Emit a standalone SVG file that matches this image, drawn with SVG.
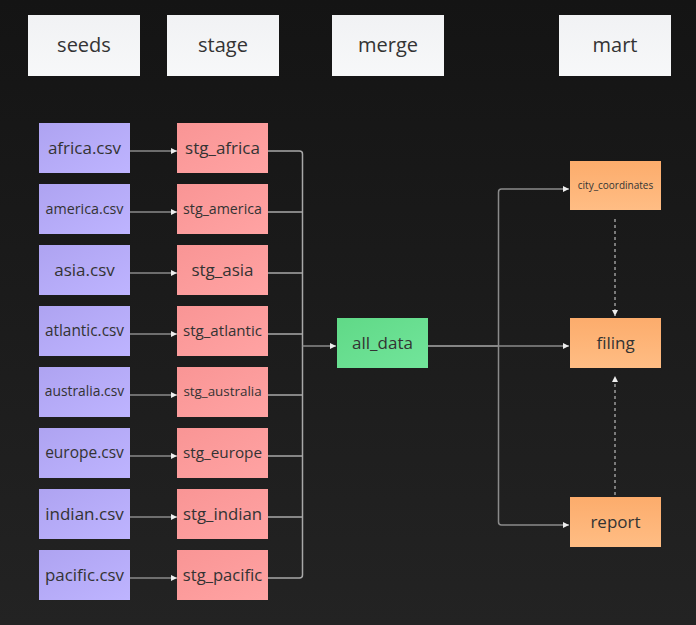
<svg xmlns="http://www.w3.org/2000/svg" width="696" height="625" viewBox="0 0 696 625">
<defs>
<linearGradient id="bg" x1="0" y1="0" x2="0" y2="1"><stop offset="0" stop-color="#141414"/><stop offset="1" stop-color="#232323"/></linearGradient>
<linearGradient id="gh" x1="0" y1="0" x2="0" y2="1"><stop offset="0" stop-color="#f1f2f4"/><stop offset="1" stop-color="#f7f8f9"/></linearGradient>
<linearGradient id="gs" x1="0" y1="0" x2="1" y2="1"><stop offset="0" stop-color="#aea3f1"/><stop offset="1" stop-color="#beb4ff"/></linearGradient>
<linearGradient id="gt" x1="0" y1="0" x2="1" y2="1"><stop offset="0" stop-color="#f99595"/><stop offset="1" stop-color="#ffa3a3"/></linearGradient>
<linearGradient id="gm" x1="0" y1="0" x2="1" y2="1"><stop offset="0" stop-color="#60d987"/><stop offset="1" stop-color="#72e59b"/></linearGradient>
<linearGradient id="go" x1="0" y1="0" x2="0" y2="1"><stop offset="0" stop-color="#fcac6c"/><stop offset="1" stop-color="#ffbd84"/></linearGradient>
<marker id="ar" markerUnits="userSpaceOnUse" markerWidth="8" markerHeight="8" refX="7" refY="4" orient="auto"><path d="M1,1 L7,4 L1,7 Z" fill="#eeeeee"/></marker>
<style>
text{font-family:"Open Sans","Noto Sans","Liberation Sans",sans-serif;fill:#333333;text-anchor:middle}
.h rect{fill:url(#gh)}
.h text{font-size:20px}
.s rect{fill:url(#gs)}
.t rect{fill:url(#gt)}
.m rect{fill:url(#gm)}
.o rect{fill:url(#go)}
.e{fill:none;stroke:#8a8a8a;stroke-width:1.5;marker-end:url(#ar)}
.b{fill:none;stroke:#a8a8a8;stroke-width:1.5}
.d{fill:none;stroke:#9a9a9a;stroke-width:1.5;stroke-dasharray:3 3;marker-end:url(#ar)}
</style>
</defs>
<rect width="696" height="625" fill="url(#bg)"/>
<g id="headers" class="h">
<g id="h-seeds"><rect x="28" y="15" width="112" height="61"/><text x="84" y="52">seeds</text></g>
<g id="h-stage"><rect x="167" y="15" width="112" height="61"/><text x="223" y="52">stage</text></g>
<g id="h-merge"><rect x="332" y="15" width="112" height="61"/><text x="388" y="52">merge</text></g>
<g id="h-mart"><rect x="559" y="15" width="112" height="61"/><text x="615" y="52">mart</text></g>
</g>
<g id="connectors">
<path class="e" d="M130,151 L177,151"/>
<path class="e" d="M130,212 L177,212"/>
<path class="e" d="M130,273 L177,273"/>
<path class="e" d="M130,334 L177,334"/>
<path class="e" d="M130,395 L177,395"/>
<path class="e" d="M130,456 L177,456"/>
<path class="e" d="M130,517 L177,517"/>
<path class="e" d="M130,578 L177,578"/>
<path class="b" d="M268,151 L299.5,151 Q302.5,151 302.5,154 L302.5,575 Q302.5,578 299.5,578 L268,578"/>
<path class="b" d="M268,212 L302.5,212"/>
<path class="b" d="M268,273 L302.5,273"/>
<path class="b" d="M268,334 L302.5,334"/>
<path class="b" d="M268,395 L302.5,395"/>
<path class="b" d="M268,456 L302.5,456"/>
<path class="b" d="M268,517 L302.5,517"/>
<path class="e" d="M302.5,346 L336,346"/>
<path class="b" d="M428,346 L498.5,346"/>
<path class="e" d="M498.5,346 L498.5,192 Q498.5,189 501.5,189 L569,189"/>
<path class="e" d="M498.5,346 L569,346"/>
<path class="e" d="M498.5,346 L498.5,522 Q498.5,525 501.5,525 L569,525"/>
<path class="d" d="M615,219 L615,316"/>
<path class="d" d="M615,495 L615,376"/>
</g>
<g id="seeds" class="s">
<g id="n-africa"><rect x="39" y="123" width="91" height="50"/><text x="84.5" y="153.5" font-size="17">africa.csv</text></g>
<g id="n-america"><rect x="39" y="184" width="91" height="50"/><text x="84.5" y="213.5" font-size="14.3">america.csv</text></g>
<g id="n-asia"><rect x="39" y="245" width="91" height="50"/><text x="84.5" y="275.5" font-size="17">asia.csv</text></g>
<g id="n-atlantic"><rect x="39" y="306" width="91" height="50"/><text x="84.5" y="336" font-size="15.4">atlantic.csv</text></g>
<g id="n-australia"><rect x="39" y="367" width="91" height="50"/><text x="84.5" y="396.3" font-size="13.8">australia.csv</text></g>
<g id="n-europe"><rect x="39" y="428" width="91" height="50"/><text x="84.5" y="458" font-size="15.5">europe.csv</text></g>
<g id="n-indian"><rect x="39" y="489" width="91" height="50"/><text x="84.5" y="519.5" font-size="17">indian.csv</text></g>
<g id="n-pacific"><rect x="39" y="550" width="91" height="50"/><text x="84.5" y="580.5" font-size="16.9">pacific.csv</text></g>
</g>
<g id="stage" class="t">
<g id="n-stg_africa"><rect x="177" y="123" width="91" height="50"/><text x="222.5" y="153.5" font-size="17">stg_africa</text></g>
<g id="n-stg_america"><rect x="177" y="184" width="91" height="50"/><text x="222.5" y="213.5" font-size="14.2">stg_america</text></g>
<g id="n-stg_asia"><rect x="177" y="245" width="91" height="50"/><text x="222.5" y="275.5" font-size="17">stg_asia</text></g>
<g id="n-stg_atlantic"><rect x="177" y="306" width="91" height="50"/><text x="222.5" y="336" font-size="15.1">stg_atlantic</text></g>
<g id="n-stg_australia"><rect x="177" y="367" width="91" height="50"/><text x="222.5" y="396.2" font-size="13.4">stg_australia</text></g>
<g id="n-stg_europe"><rect x="177" y="428" width="91" height="50"/><text x="222.5" y="458" font-size="15.3">stg_europe</text></g>
<g id="n-stg_indian"><rect x="177" y="489" width="91" height="50"/><text x="222.5" y="519.5" font-size="16.8">stg_indian</text></g>
<g id="n-stg_pacific"><rect x="177" y="550" width="91" height="50"/><text x="222.5" y="580.5" font-size="16.6">stg_pacific</text></g>
</g>
<g id="n-all_data" class="m"><rect x="337" y="318" width="91" height="50"/><text x="382.5" y="348.5" font-size="17">all_data</text></g>
<g id="mart" class="o">
<g id="n-city_coordinates"><rect x="570" y="161" width="91" height="49"/><text x="615.5" y="188.5" font-size="10">city_coordinates</text></g>
<g id="n-filing"><rect x="570" y="318" width="91" height="50"/><text x="615.5" y="348.5" font-size="17">filing</text></g>
<g id="n-report"><rect x="570" y="497" width="91" height="50"/><text x="615.5" y="527.5" font-size="17">report</text></g>
</g>
</svg>
